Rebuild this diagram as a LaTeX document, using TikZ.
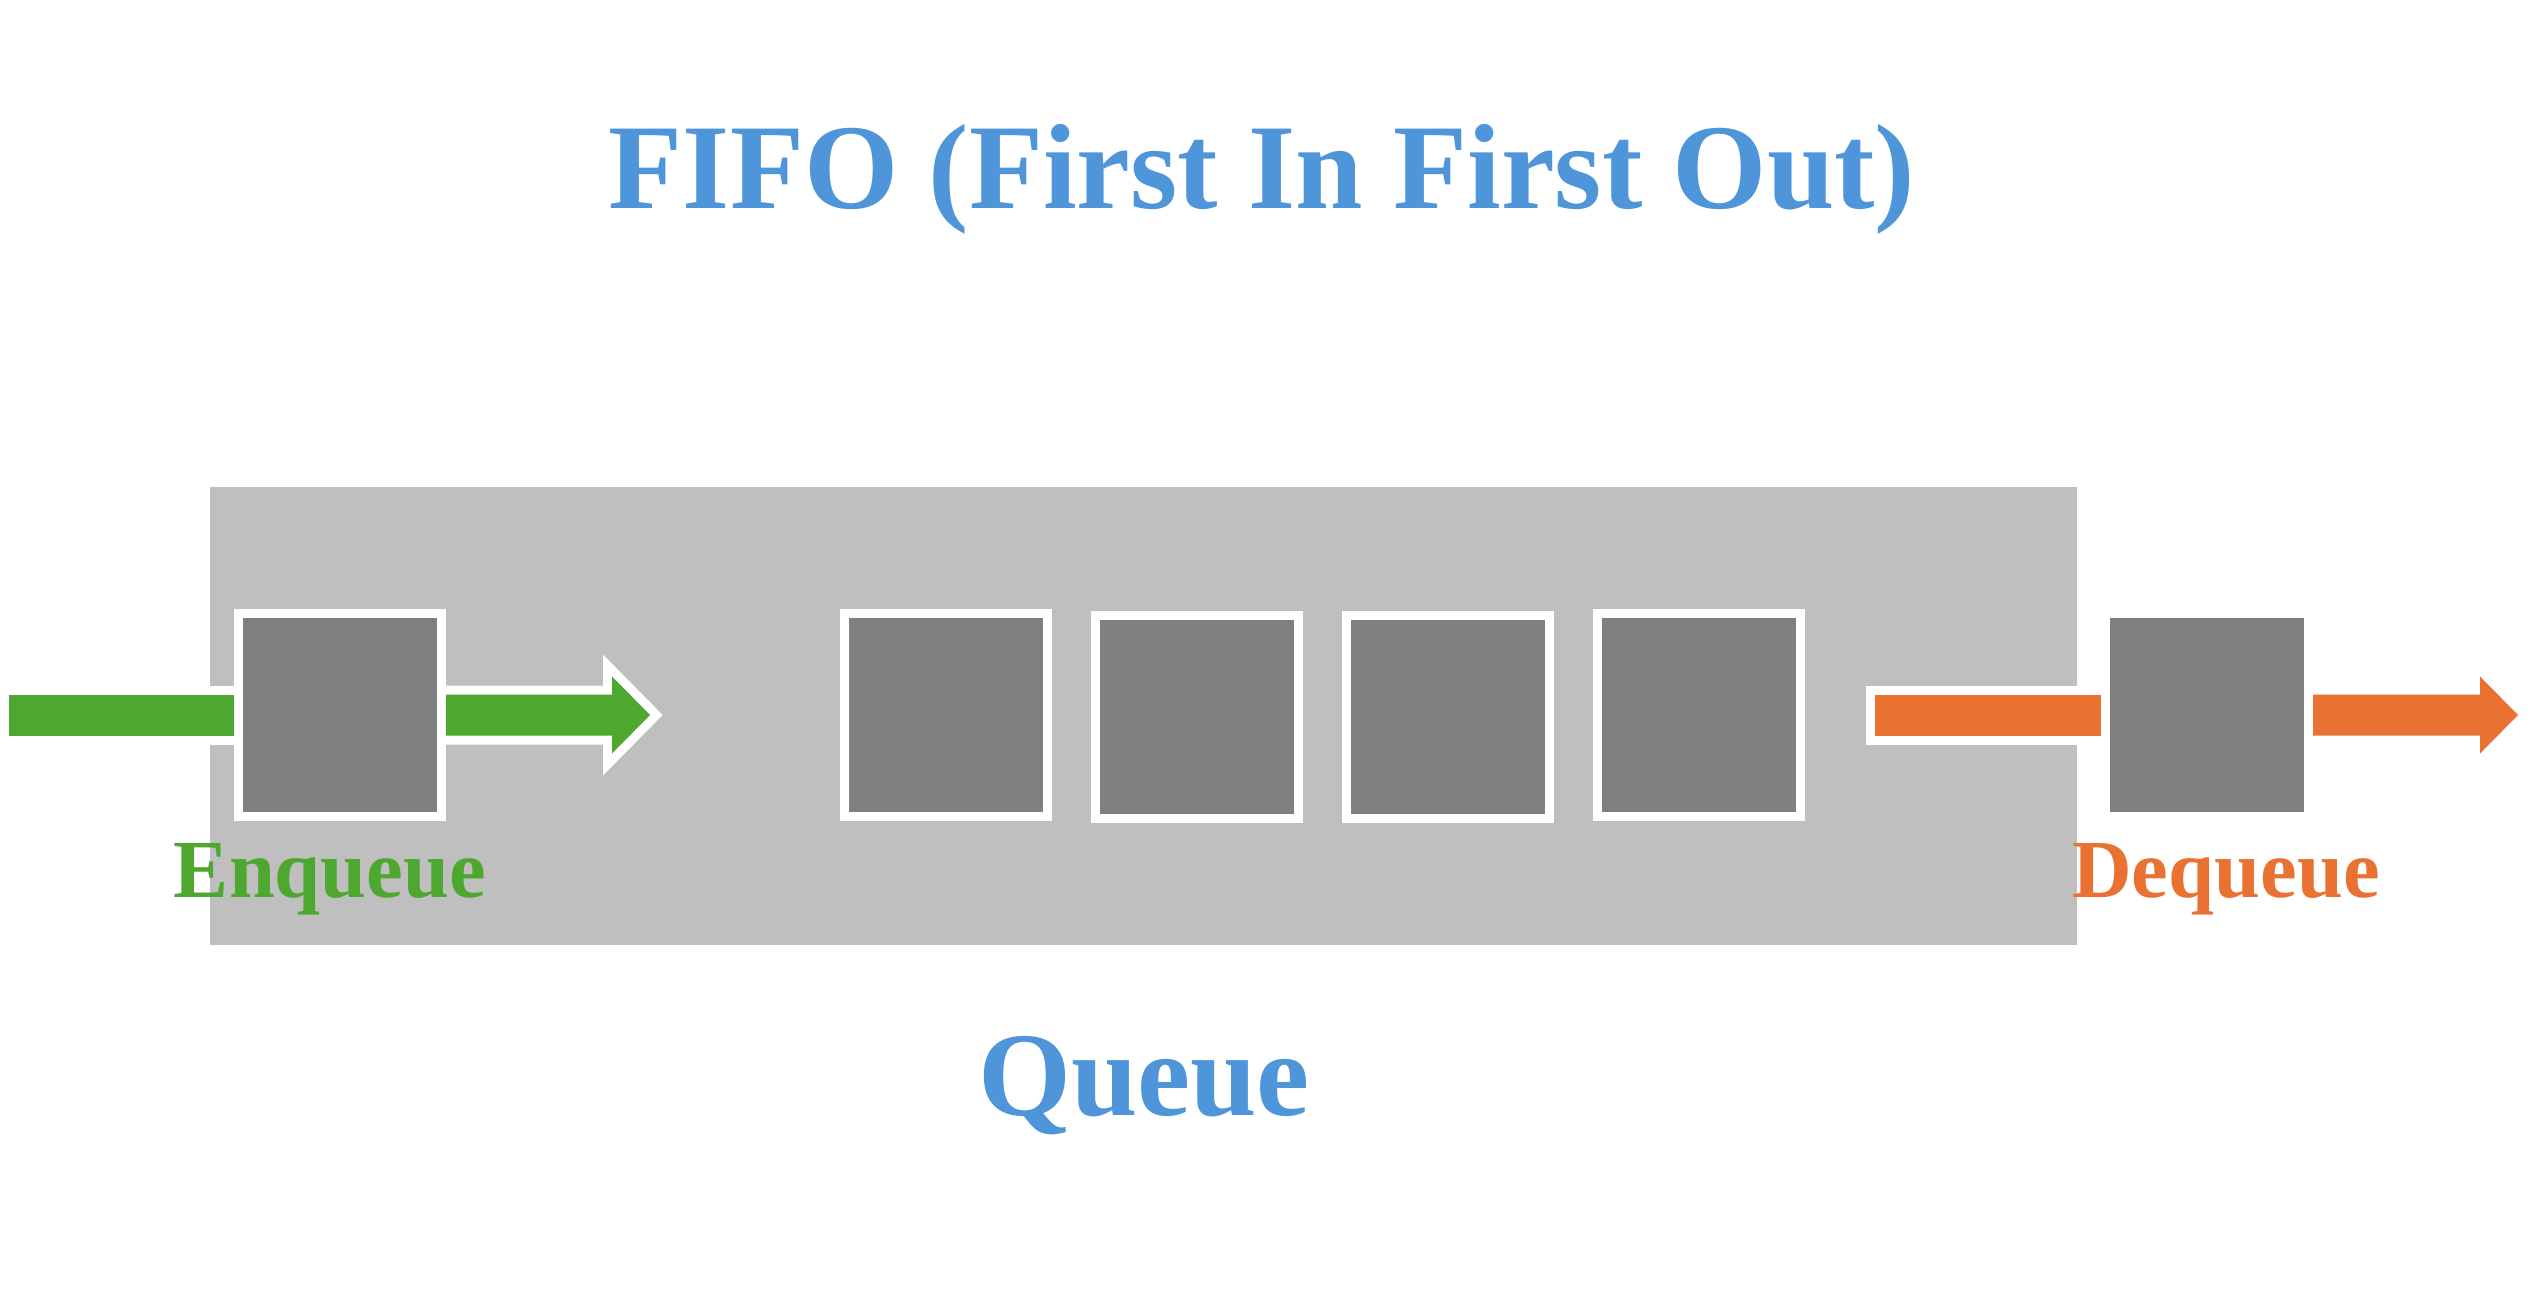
\documentclass[tikz,border=0pt]{standalone}
\usepackage{fontspec}
\setmainfont{Liberation Serif}
\usetikzlibrary{calc}
\definecolor{qblue}{HTML}{4E95D9}
\definecolor{qgreen}{HTML}{4EA72E}
\definecolor{qorange}{HTML}{E97132}
\definecolor{qlight}{HTML}{BFBFBF}
\definecolor{qdark}{HTML}{808080}
\tikzset{
  outlined/.style={preaction={draw=white, line width=0.36cm, line join=miter, miter limit=10}},
  item/.style={outlined, fill=qdark, minimum size=3.88cm, inner sep=0pt, outer sep=0pt},
  lbl/.style={font=\bfseries\fontsize{47}{56}\selectfont, anchor=base, inner sep=0pt},
  big/.style={font=\bfseries\fontsize{68}{80}\selectfont, text=qblue, anchor=base, inner sep=0pt}
}
\newcommand{\qarrow}[3]{%
  \path[outlined, fill=#1] ($(#2)+(0,-20.5)$) -- ($(#3)+(-38,-20.5)$) -- ($(#3)+(-38,-38.5)$)
    -- (#3) -- ($(#3)+(-38,38.5)$) -- ($(#3)+(-38,20.5)$) -- ($(#2)+(0,20.5)$) -- cycle;}
\begin{document}
\begin{tikzpicture}[x=0.02cm, y=-0.02cm]
\useasboundingbox (0,0) rectangle (2531,1293);
% queue background
\fill[qlight] (210,487) rectangle (2077,945);
% box positions (nodes drawn after the arrows)
\coordinate (c1) at (340,715);
\coordinate (c2) at (946,715);
\coordinate (c3) at (1197,717);
\coordinate (c4) at (1448,717);
\coordinate (c5) at (1699,715);
\coordinate (c6) at (2207,715);
\path (c1) node[minimum size=3.88cm, inner sep=0pt, outer sep=0pt] (p1) {};
\path (c6) node[minimum size=3.88cm, inner sep=0pt, outer sep=0pt] (p6) {};
% arrow end points
\coordinate (inL) at (9,715);
\coordinate (enqTip) at (650,715);
\coordinate (deqL) at (1875,715);
\coordinate (deqTip) at (2518,715);
% enqueue bar and arrow
\path[outlined, fill=qgreen] ($(inL)+(0,-20.5)$) rectangle ($(p1.west)+(0,20.5)$);
\qarrow{qgreen}{p1.east}{enqTip}
% dequeue bar and arrow
\path[outlined, fill=qorange] ($(deqL)+(0,-20.5)$) rectangle ($(p6.west)+(0,20.5)$);
\qarrow{qorange}{p6.east}{deqTip}
% boxes
\node[item] (b1) at (c1) {};
\node[item] (b2) at (c2) {};
\node[item] (b3) at (c3) {};
\node[item] (b4) at (c4) {};
\node[item] (b5) at (c5) {};
\node[item] (b6) at (c6) {};
% texts
\node[big, font=\bfseries\fontsize{69}{80}\selectfont] (title) at (1262,209) {FIFO (First In First Out)};
\node[big] (qlabel) at (1144,1115) {Queue};
\node[lbl, text=qgreen] (enq) at (330,897) {Enqueue};
\node[lbl, text=qorange] (deq) at (2226,897) {Dequeue};
\end{tikzpicture}
\end{document}
